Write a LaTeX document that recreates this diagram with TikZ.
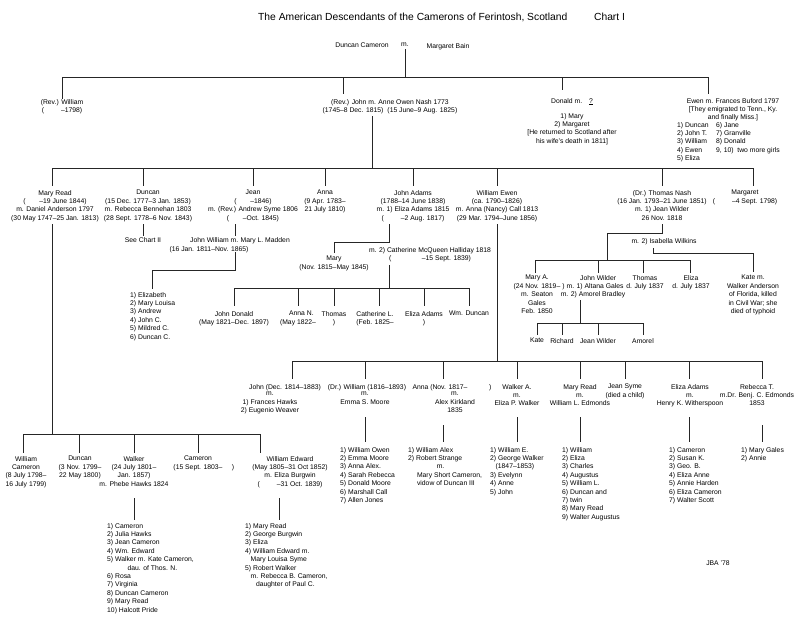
\documentclass[tikz,border=0pt]{standalone}
\usepackage{fontspec}
\setmainfont{Liberation Sans}
\newcommand\fsz{\fontsize{6.8}{8.4}\selectfont}
\tikzset{
 t/.style={font=\fsz, align=center, inner sep=0pt, anchor=north},
 l/.style={font=\fsz, align=left, inner sep=0pt, anchor=north west},
 ln/.style={line width=0.8pt, black!85}
}
\begin{document}
\begin{tikzpicture}[x=1pt,y=-1pt]
\useasboundingbox[fill=white] (0,0) rectangle (800,618);
% title
\node[anchor=west, inner sep=0pt, font=\fontsize{10.3}{12}\selectfont] (title) at (258,17) {The American Descendants of the Camerons of Ferintosh, Scotland\hspace{2.6em}Chart I};
\node[t] (dc) at (362,43) {Duncan Cameron};
\node[t] (dm) at (405,43) {m.};
\node[t] (mb) at (448,43) {Margaret Bain};
% generation 1
\node[t] (wil) at (62,99) {(Rev.) William\\(\hspace{2.5em}–1798)};
\node[t] (john) at (390,99) {(Rev.) John m. Anne Owen Nash 1773\\(1745–8 Dec. 1815)\hspace{0.6em}(15 June–9 Aug. 1825)};
\node[t] (don) at (572,98) {Donald m.\hspace{1em}\underline{?}};
\node[t] (donl) at (572,113) {1) Mary\\2) Margaret\\{}[He returned to Scotland after\\his wife's death in 1811]};
\node[t] (ewen) at (733,98) {Ewen m. Frances Buford 1797\\{}[They emigrated to Tenn., Ky.\\and finally Miss.]};
\node[l] (ewl1) at (677,122) {1) Duncan\\2) John T.\\3) William\\4) Ewen\\5) Eliza};
\node[l] (ewl2) at (716,122) {6) Jane\\7) Granville\\8) Donald\\9, 10)\ \ two more girls};
% generation 2
\node[t] (mr) at (55,190) {Mary Read\\(\hspace{2em}–19 June 1844)\\m. Daniel Anderson 1797\\(30 May 1747–25 Jan. 1813)};
\node[t] (dun) at (148,190) {Duncan\\(15 Dec. 1777–3 Jan. 1853)\\m. Rebecca Bennehan 1803\\(28 Sept. 1778–6 Nov. 1843)};
\node[t] (ch2) at (143,237) {See Chart II};
\node[t] (jean) at (253,190) {Jean\\(\hspace{2em}–1846)\\m. (Rev.) Andrew Syme 1806\\(\hspace{2em}–Oct. 1845)};
\node[t] (jw) at (240,237) {John William m. Mary L. Madden};
\node[t] (jw2) at (209,246) {(16 Jan. 1811–Nov. 1865)};
\node[l] (jwl) at (130,292) {1) Elizabeth\\2) Mary Louisa\\3) Andrew\\4) John C.\\5) Mildred C.\\6) Duncan C.};
\node[t] (anna) at (325,190) {Anna\\(9 Apr. 1783–\\21 July 1810)};
\node[t] (ja) at (413,190) {John Adams\\(1788–14 June 1838)\\m. 1) Eliza Adams 1815\\(\hspace{2.5em}–2 Aug. 1817)};
\node[t] (mary) at (334,256) {Mary\\(Nov. 1815–May 1845)};
\node[t] (cat) at (430,247) {m. 2) Catherine McQueen Halliday 1818\\(\hspace{4.5em}–15 Sept. 1839)};
\node[t] (jd) at (234,311) {John Donald\\(May 1821–Dec. 1897)};
\node[t] (an) at (298,311) {\hspace{1em}Anna N.\\(May 1822–};
\node[t] (th) at (334,311) {Thomas\\)\hspace{2em}};
\node[t] (cl) at (375,311) {Catherine L.\\(Feb. 1825–};
\node[t] (ea) at (424,311) {Eliza Adams\\)\hspace{3.5em}};
\node[t] (wd) at (469,311) {Wm. Duncan};
\node[t] (we) at (497,190) {William Ewen\\(ca. 1790–1826)\\m. Anna (Nancy) Call 1813\\(29 Mar. 1794–June 1856)};
\node[t] (tn) at (662,190) {(Dr.) Thomas Nash\\(16 Jan. 1793–21 June 1851)\\m. 1) Jean Wilder\\26 Nov. 1818};
\node[t] (mg) at (745,190) {Margaret\\(\hspace{2.5em}–4 Sept. 1798)};
\node[t] (iw) at (664,238) {m. 2) Isabella Wilkins};
% Thomas Nash's children
\node[t] (ma) at (537,275) {Mary A.\\(24 Nov. 1819–\\m. Seaton\\Gales\\Feb. 1850};
\node[t] (jwd) at (593,275) {\hspace{1.5em}John Wilder\\) m. 1) Altana Gales\\m. 2) Amorel Bradley};
\node[t] (tho) at (645,275) {Thomas\\d. July 1837};
\node[t] (el) at (691,275) {Eliza\\d. July 1837};
\node[t] (kt) at (753,275) {Kate m.\\Walker Anderson\\of Florida, killed\\in Civil War; she\\died of typhoid};
\node[t] (kat) at (537,338) {Kate};
\node[t] (ric) at (562,338) {Richard};
\node[t] (jwi) at (598,338) {Jean Wilder};
\node[t] (amo) at (643,338) {Amorel};
% William Ewen's children
\node[t] (jn) at (285,384) {John (Dec. 1814–1883)};
\node[t] (jn2) at (270,392) {m.\\1) Frances Hawks\\2) Eugenio Weaver};
\node[t] (wm) at (367,384) {(Dr.) William (1816–1893)};
\node[t] (wm2) at (365,392) {m.\\Emma S. Moore};
\node[l] (wml) at (340,447) {1) William Owen\\2) Emma Moore\\3) Anna Alex.\\4) Sarah Rebecca\\5) Donald Moore\\6) Marshall Call\\7) Allen Jones};
\node[t] (an2) at (452,384) {Anna (Nov. 1817–\hspace{3.2em})};
\node[t] (an3) at (455,392) {m.\\Alex Kirkland\\1835};
\node[l] (anl) at (408,447) {1) William Alex\\2) Robert Strange\\\hspace{4.2em}m.\\\hspace{1.3em}Mary Short Cameron,\\\hspace{1.3em}vidow of Duncan III};
\node[t] (wa) at (517,384) {Walker A.\\m.\\Eliza P. Walker};
\node[l] (wal) at (490,447) {1) William E.\\2) George Walker\\\hspace{0.8em}(1847–1853)\\3) Evelynn\\4) Anne\\5) John};
\node[t] (mrd) at (580,384) {Mary Read\\m.\\William L. Edmonds};
\node[l] (mrl) at (562,447) {1) William\\2) Eliza\\3) Charles\\4) Augustus\\5) William L.\\6) Duncan and\\7) twin\\8) Mary Read\\9) Walter Augustus};
\node[t] (js) at (625,384) {Jean Syme\\(died a child)};
\node[t] (ead) at (690,384) {Eliza Adams\\m.\\Henry K. Witherspoon};
\node[l] (eal) at (669,447) {1) Cameron\\2) Susan K.\\3) Geo. B.\\4) Eliza Anne\\5) Annie Harden\\6) Eliza Cameron\\7) Walter Scott};
\node[t] (rb) at (757,384) {Rebecca T.\\m.Dr. Benj. C. Edmonds\\1853};
\node[l] (rbl) at (741,447) {1) Mary Gales\\2) Annie};
% Mary Read's children
\node[t] (wc) at (26,456) {William\\Cameron\\(8 July 1798–\\16 July 1799)};
\node[t] (du2) at (80,456) {Duncan\\(3 Nov. 1799–\\22 May 1800)};
\node[t] (wk) at (134,456) {Walker\\(24 July 1801–\\Jan. 1857)\\m. Phebe Hawks 1824};
\node[l] (wkl) at (107,523) {1) Cameron\\2) Julia Hawks\\3) Jean Cameron\\4) Wm. Edward\\5) Walker m. Kate Cameron,\\\hspace{3em}dau. of Thos. N.\\6) Rosa\\7) Virginia\\8) Duncan Cameron\\9) Mary Read\\10) Halcott Pride};
\node[t] (cam) at (198,456) {Cameron\\(15 Sept. 1803–};
\node[t] (camp) at (233,464) {)};
\node[t] (wed) at (290,456) {William Edward\\(May 1805–31 Oct 1852)\\m. Eliza Burgwin\\(\hspace{2.5em}–31 Oct. 1839)};
\node[l] (wedl) at (245,523) {1) Mary Read\\2) George Burgwin\\3) Eliza\\4) William Edward m.\\\hspace{0.8em}Mary Louisa Syme\\5) Robert Walker\\\hspace{0.8em}m. Rebecca B. Cameron,\\\hspace{1.6em}daughter of Paul C.};
\node[t] (jba) at (718,561) {JBA '78};
% ---------- connectors
\draw[ln] (dm.south) ++(0,2) -- (405,77);
\draw[ln] (62,77) -- (708,77);
\draw[ln] (62,77) -- (wil.north);
\draw[ln] (343,77) -- (343,94);
\draw[ln] (562,77) -- (562,90);
\draw[ln] (708,77) -- (708,94);
\draw[ln] (372,116) -- (372,168);
\draw[ln] (52,168) -- (753,168);
\foreach \x in {52,143,253,325,413,497,662,753} \draw[ln] (\x,168) -- (\x,186);
\draw[ln] (52,224) -- (52,434);
\draw[ln] (23,434) -- (260,434);
\foreach \x in {23,79,134,198,260} \draw[ln] (\x,434) -- (\x,453);
\draw[ln] (134,498) -- (134,520);
\draw[ln] (279,498) -- (279,520);
\draw[ln] (143,224) -- (143,236);
\draw[ln] (235,224) -- (235,236);
\draw[ln] (235,252) -- (235,270) -- (152,270) -- (152,289);
\draw[ln] (389,224) -- (389,242) -- (334,242) -- (334,253);
\draw[ln] (389,265) -- (389,288);
\draw[ln] (234,288) -- (469,288);
\foreach \x in {234,298,334,379,424,469} \draw[ln] (\x,288) -- (\x,306);
\draw[ln] (497,224) -- (497,361);
\draw[ln] (292,361) -- (762,361);
\foreach \x in {292,365,443,517,580,625,689,762} \draw[ln] (\x,361) -- (\x,379);
\foreach \x in {365,517,580,689} \draw[ln] (\x,417) -- (\x,442);
\foreach \x in {443,762} \draw[ln] (\x,425) -- (\x,442);
\draw[ln] (662,224) -- (662,233) -- (607,233) -- (607,260);
\draw[ln] (535,260) -- (690,260);
\foreach \x in {535,598,643,690} \draw[ln] (\x,260) -- (\x,273);
\draw[ln] (653,248) -- (653,253) -- (753,253) -- (753,272);
\draw[ln] (580,300) -- (580,323);
\draw[ln] (537,323) -- (643,323);
\foreach \x in {537,562,598,643} \draw[ln] (\x,323) -- (\x,335);
\end{tikzpicture}
\end{document}
